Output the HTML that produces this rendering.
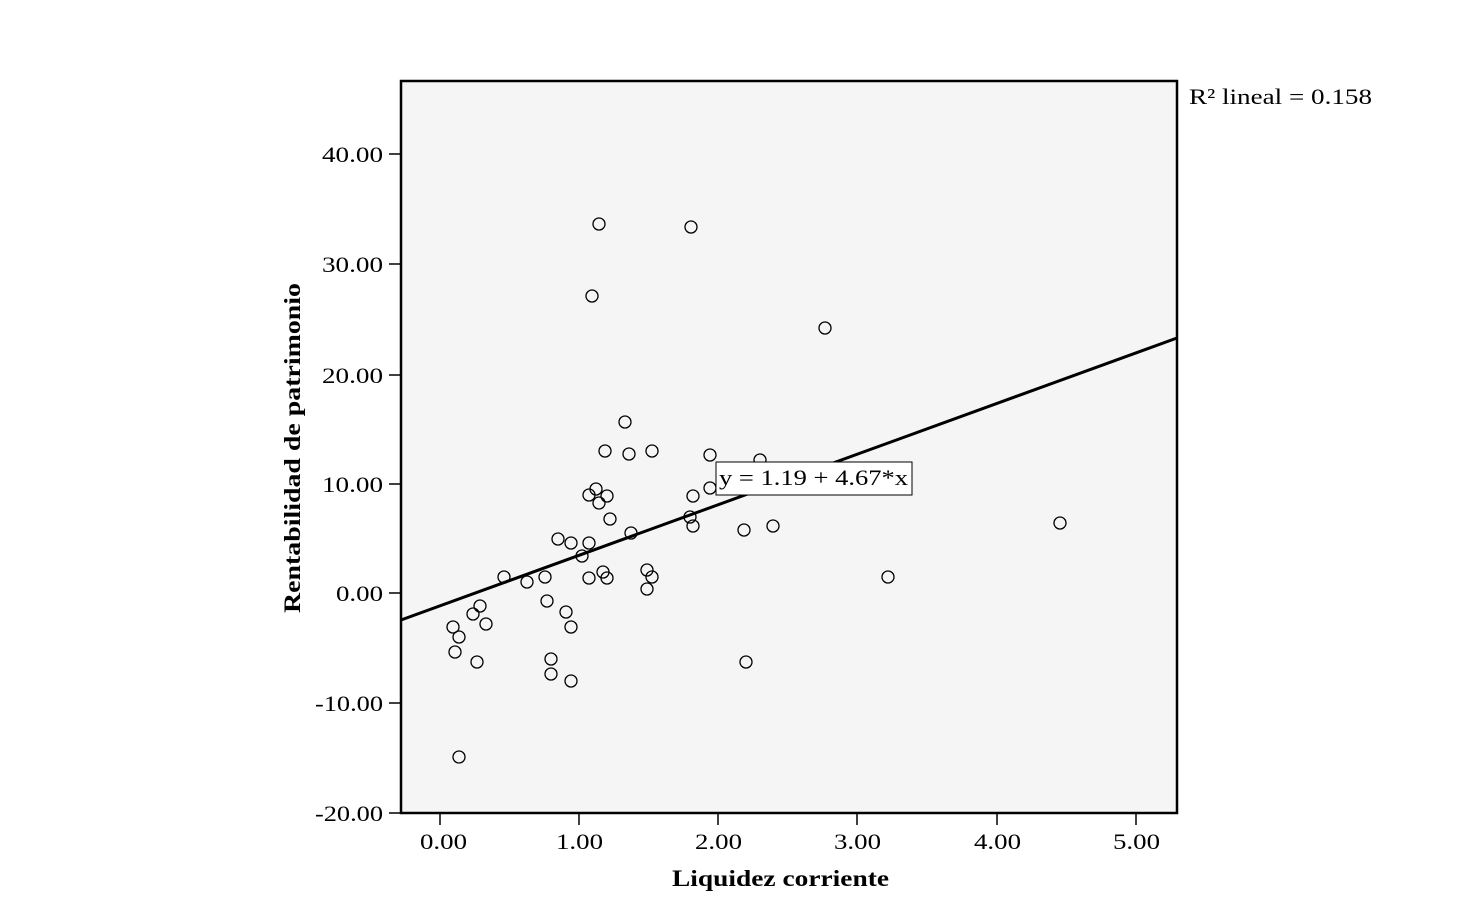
<!DOCTYPE html>
<html><head><meta charset="utf-8"><style>
html,body{margin:0;padding:0;background:#fff;}
svg text{font-family:"Liberation Serif",serif;fill:#000;}
</style></head><body>
<svg width="1483" height="919" viewBox="0 0 1483 919" xmlns="http://www.w3.org/2000/svg">
<rect x="0" y="0" width="1483" height="919" fill="#fff"/>
<rect x="401" y="81" width="776" height="732" fill="#f5f5f5" stroke="#000" stroke-width="2.5"/>
<g stroke="#000" stroke-width="1.5">
<line x1="389" y1="154" x2="401" y2="154"/><line x1="389" y1="264" x2="401" y2="264"/>
<line x1="389" y1="375" x2="401" y2="375"/><line x1="389" y1="484" x2="401" y2="484"/>
<line x1="389" y1="593" x2="401" y2="593"/><line x1="389" y1="703" x2="401" y2="703"/>
<line x1="389" y1="813" x2="401" y2="813"/>
<line x1="440" y1="813" x2="440" y2="825"/><line x1="579" y1="813" x2="579" y2="825"/>
<line x1="718" y1="813" x2="718" y2="825"/><line x1="857" y1="813" x2="857" y2="825"/>
<line x1="997" y1="813" x2="997" y2="825"/><line x1="1136" y1="813" x2="1136" y2="825"/>
</g>
<g font-size="22">
<text x="322" y="162" textLength="61" lengthAdjust="spacingAndGlyphs">40.00</text>
<text x="322" y="272" textLength="61" lengthAdjust="spacingAndGlyphs">30.00</text>
<text x="322" y="383" textLength="61" lengthAdjust="spacingAndGlyphs">20.00</text>
<text x="322" y="492" textLength="61" lengthAdjust="spacingAndGlyphs">10.00</text>
<text x="336" y="601" textLength="47" lengthAdjust="spacingAndGlyphs">0.00</text>
<text x="315" y="711" textLength="68" lengthAdjust="spacingAndGlyphs">-10.00</text>
<text x="315" y="821" textLength="68" lengthAdjust="spacingAndGlyphs">-20.00</text>
</g>
<g font-size="22">
<text x="420" y="849" textLength="47" lengthAdjust="spacingAndGlyphs">0.00</text>
<text x="556" y="849" textLength="47" lengthAdjust="spacingAndGlyphs">1.00</text>
<text x="695" y="849" textLength="47" lengthAdjust="spacingAndGlyphs">2.00</text>
<text x="834" y="849" textLength="47" lengthAdjust="spacingAndGlyphs">3.00</text>
<text x="974" y="849" textLength="47" lengthAdjust="spacingAndGlyphs">4.00</text>
<text x="1113" y="849" textLength="47" lengthAdjust="spacingAndGlyphs">5.00</text>
</g>
<text x="672" y="886" font-size="23" font-weight="bold" textLength="217" lengthAdjust="spacingAndGlyphs">Liquidez corriente</text>
<text transform="translate(300,613) rotate(-90)" font-size="23" font-weight="bold" textLength="330" lengthAdjust="spacingAndGlyphs">Rentabilidad de patrimonio</text>
<text x="1189" y="104" font-size="22" textLength="183" lengthAdjust="spacingAndGlyphs">R² lineal = 0.158</text>
<g fill="none" stroke="#000" stroke-width="1.3">
<circle cx="599" cy="224" r="6"/><circle cx="691" cy="227" r="6"/><circle cx="592" cy="296" r="6"/><circle cx="825" cy="328" r="6"/><circle cx="625" cy="422" r="6"/><circle cx="605" cy="451" r="6"/><circle cx="629" cy="454" r="6"/><circle cx="652" cy="451" r="6"/><circle cx="710" cy="455" r="6"/><circle cx="760" cy="460" r="6"/><circle cx="596" cy="489" r="6"/><circle cx="589" cy="495" r="6"/><circle cx="607" cy="496" r="6"/><circle cx="710" cy="488" r="6"/><circle cx="599" cy="503" r="6"/><circle cx="693" cy="496" r="6"/><circle cx="610" cy="519" r="6"/><circle cx="690" cy="517" r="6"/><circle cx="693" cy="526" r="6"/><circle cx="744" cy="530" r="6"/><circle cx="773" cy="526" r="6"/><circle cx="1060" cy="523" r="6"/><circle cx="631" cy="533" r="6"/><circle cx="558" cy="539" r="6"/><circle cx="571" cy="543" r="6"/><circle cx="589" cy="543" r="6"/><circle cx="582" cy="556" r="6"/><circle cx="504" cy="577" r="6"/><circle cx="545" cy="577" r="6"/><circle cx="603" cy="572" r="6"/><circle cx="589" cy="578" r="6"/><circle cx="607" cy="578" r="6"/><circle cx="647" cy="570" r="6"/><circle cx="652" cy="577" r="6"/><circle cx="888" cy="577" r="6"/><circle cx="527" cy="582" r="6"/><circle cx="647" cy="589" r="6"/><circle cx="547" cy="601" r="6"/><circle cx="480" cy="606" r="6"/><circle cx="473" cy="614" r="6"/><circle cx="566" cy="612" r="6"/><circle cx="486" cy="624" r="6"/><circle cx="453" cy="627" r="6"/><circle cx="571" cy="627" r="6"/><circle cx="459" cy="637" r="6"/><circle cx="455" cy="652" r="6"/><circle cx="551" cy="659" r="6"/><circle cx="477" cy="662" r="6"/><circle cx="746" cy="662" r="6"/><circle cx="551" cy="674" r="6"/><circle cx="571" cy="681" r="6"/><circle cx="459" cy="757" r="6"/>
</g>
<line x1="401" y1="620" x2="1177" y2="338" stroke="#000" stroke-width="3"/>
<rect x="716" y="462" width="196" height="33" fill="#fff" stroke="#000" stroke-width="1"/>
<text x="719" y="485" font-size="22" textLength="189" lengthAdjust="spacingAndGlyphs">y = 1.19 + 4.67*x</text>
</svg>
</body></html>
